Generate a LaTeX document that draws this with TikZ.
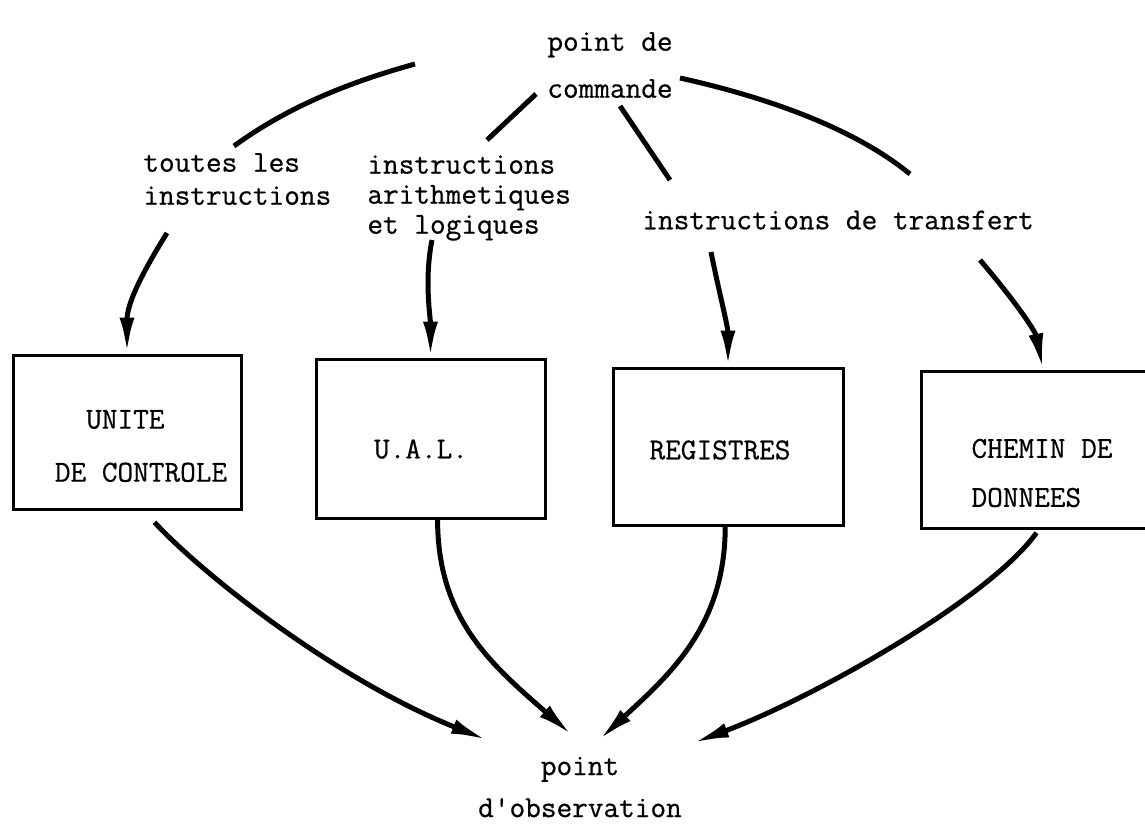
\documentclass[tikz,border=0pt]{standalone}
\usepackage{fontspec}
\setmonofont[FakeBold=0.6]{Latin Modern Mono}
\usetikzlibrary{arrows.meta}

\begin{document}
\begin{tikzpicture}[x=0.5pt, y=-0.5pt,
    texte/.style={font=\ttfamily\fontsize{15.2}{16.5}\selectfont, inner sep=0pt},
    boite/.style={draw, line width=1.5pt},
    trait/.style={line width=2.5pt},
    fleche/.style={trait, -{Latex[length=18pt, width=7.5pt]}}]
    \useasboundingbox (0,0) rectangle (1145,826);
    % Points de commande et d'observation
    \node[texte, align=center] (cmd) at (610,65) {point de\\[7pt]commande};
    \node[texte, align=center] (obs) at (580,787) {point\\[4.5pt]d'observation};
    % Libelles des instructions
    \node[texte, align=left, anchor=west] (lblall) at (143,179) {toutes les\\instructions};
    \node[texte, align=left, anchor=west] (lblarith) at (367,198) {instructions\\[-1.5pt]arithmetiques\\[-1.5pt]et logiques};
    \node[texte, anchor=west] (lbltrans) at (642,220) {instructions de transfert};
    % Les quatre blocs
    \node[boite, minimum width=114pt, minimum height=77pt] (ctrl) at (127,432) {};
    \node[boite, minimum width=114.5pt, minimum height=79.5pt] (ual) at (430.5,438.5) {};
    \node[boite, minimum width=115pt, minimum height=78.5pt] (reg) at (728,446.5) {};
    \node[boite, minimum width=122pt, minimum height=78.5pt] (chemin) at (1043,449.5) {};
    \node[texte, align=left] (ctrltxt) at (141,446) {\phantom{DE}UNITE\\[10pt]DE CONTROLE};
    \node[texte] (ualtxt) at (421,449) {U.A.L.};
    \node[texte] (regtxt) at (720,450) {REGISTRES};
    \node[texte, align=left] (chemintxt) at (1042,473) {CHEMIN DE\\[8pt]DONNEES};
    % Bouts libres des traits
    \coordinate (cmdA) at (415,64);  \coordinate (allA) at (234,146);
    \coordinate (cmdB) at (536,94);  \coordinate (arithB) at (487,140);
    \coordinate (cmdC) at (620,106); \coordinate (transC) at (670,180);
    \coordinate (cmdD) at (680,78);  \coordinate (transD) at (910,174);
    \coordinate (allE) at (167,233); \coordinate (arithF) at (432,240);
    \coordinate (transG) at (711,252); \coordinate (transH) at (980,260);
    \coordinate (obs1) at (487,740); \coordinate (obs2) at (572,735);
    \coordinate (obs3) at (599,740); \coordinate (obs4) at (693,743);
    % Depuis le point de commande
    \draw[trait] (cmdA) .. controls +(-65,18) and +(55,-40) .. (allA);
    \draw[trait] (cmdB) -- (arithB);
    \draw[trait] (cmdC) -- (transC);
    \draw[trait] (cmdD) .. controls +(90,20) and +(-55,-45) .. (transD);
    % Vers les blocs
    \draw[fleche] (allE) .. controls +(-25,40) and +(0,-50) .. (ctrl.north);
    \draw[fleche] (arithF) .. controls +(-8,40) and +(0,-40) .. (ual.north);
    \draw[fleche] (transG) .. controls +(8,40) and +(0,-40) .. (reg.north);
    \draw[fleche] (transH) .. controls +(30,35) and +(-8,-40) .. (chemin.north);
    % Vers le point d'observation
    \draw[fleche, shorten <=8pt] (ctrl.-78) .. controls +(60,65) and +(-150,-60) .. (obs1);
    \draw[fleche] (ual.-85) .. controls +(0,100) and +(-80,-70) .. (obs2);
    \draw[fleche] (reg.-92) .. controls +(0,100) and +(70,-65) .. (obs3);
    \draw[fleche, shorten <=2pt] (chemin.-93) .. controls +(-50,70) and +(120,-45) .. (obs4);
\end{tikzpicture}
\end{document}
